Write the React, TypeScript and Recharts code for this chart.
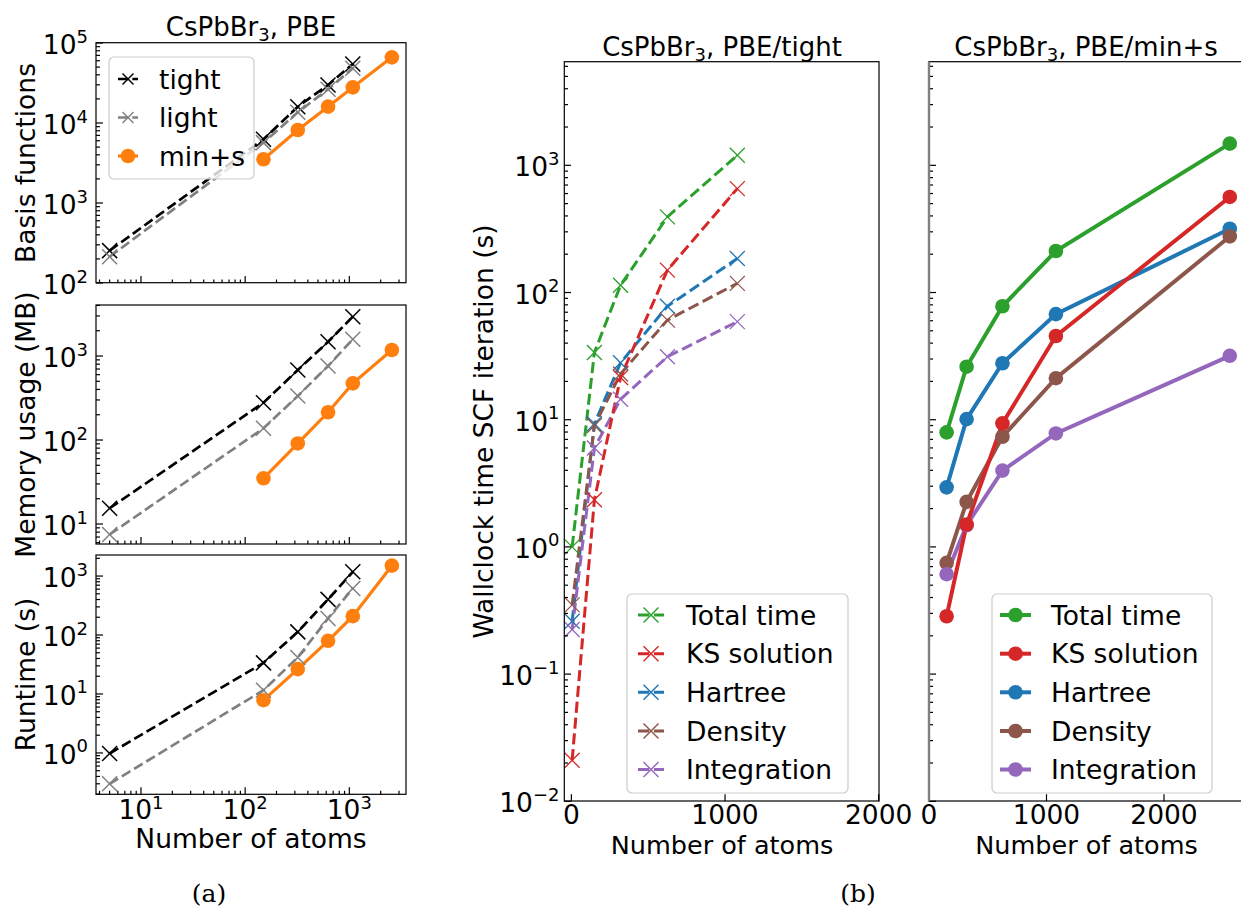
import React from 'react'
import { LineChart, Line, XAxis, YAxis } from 'recharts'

const FONT = '"DejaVu Sans", sans-serif'
const SERIF = '"DejaVu Serif", serif'
const FS = 26.5
const SUP = 18

// number of atoms
const ATOMS_TIGHT = [5, 150, 320, 625, 1080]
const ATOMS_MINS = [150, 320, 625, 1080, 2560]

// (a) basis functions
const BASIS_TIGHT = [254, 6250, 16000, 29900, 54600]
const BASIS_LIGHT = [213, 5680, 13600, 26400, 48300]
const BASIS_MINS = [3520, 8180, 16000, 27900, 66200]

// (a) memory usage (MB)
const MEM_TIGHT = [15.4, 278, 681, 1480, 2940]
const MEM_LIGHT = [7.5, 138, 334, 761, 1580]
const MEM_MINS = [35, 91, 214, 473, 1180]

// (a) runtime (s)
const RUN_TIGHT = [0.98, 33.7, 113, 402, 1180]
const RUN_LIGHT = [0.3, 11.6, 41.7, 191, 617]
const RUN_MINS = [7.85, 26.4, 79.8, 209, 1500]

// (b) wallclock time per SCF iteration, PBE/tight
const TIGHT_TOTAL = [1.0, 33.8, 114, 393, 1200]
const TIGHT_KS = [0.021, 2.35, 21.5, 150, 656]
const TIGHT_HARTREE = [0.26, 9.3, 28, 78, 185]
const TIGHT_DENSITY = [0.35, 9.0, 22.9, 60.7, 118]
const TIGHT_INTEG = [0.224, 6.0, 14.5, 31.3, 59]

// (b) wallclock time per SCF iteration, PBE/min+s
const MINS_TOTAL = [7.95, 26.1, 78, 212, 1480]
const MINS_KS = [0.285, 1.5, 9.35, 45.5, 564]
const MINS_HARTREE = [2.94, 10.1, 27.8, 67.6, 317]
const MINS_DENSITY = [0.75, 2.26, 7.35, 21.2, 276]
const MINS_INTEG = [0.61, 1.48, 3.98, 7.8, 31.8]

const LIN_TICKS = [0, 1000, 2000]

const SCF_SERIES = [
  { name: 'Total time', color: '#2ca02c', tight: TIGHT_TOTAL, mins: MINS_TOTAL },
  { name: 'KS solution', color: '#d62728', tight: TIGHT_KS, mins: MINS_KS },
  { name: 'Hartree', color: '#1f77b4', tight: TIGHT_HARTREE, mins: MINS_HARTREE },
  { name: 'Density', color: '#8c564b', tight: TIGHT_DENSITY, mins: MINS_DENSITY },
  { name: 'Integration', color: '#9467bd', tight: TIGHT_INTEG, mins: MINS_INTEG },
]
// KS drawn last so it sits on top, legend keeps the order above
const DRAW_ORDER = [0, 2, 3, 4, 1]

const pts = (xs: number[], ys: number[]) => xs.map((x, i) => ({ x, y: ys[i] }))

function logTicks(lo: number, hi: number) {
  const out: number[] = []
  for (let e = Math.floor(Math.log10(lo)); e <= Math.ceil(Math.log10(hi)); e++) {
    for (let m = 1; m < 10; m++) {
      const v = Number((m * Math.pow(10, e)).toPrecision(6))
      if (v >= lo * 0.9999 && v <= hi * 1.0001) out.push(v)
    }
  }
  return out
}

const isMajor = (v: number) => {
  const l = Math.log10(v)
  return Math.abs(l - Math.round(l)) < 1e-6
}
const expText = (v: number) => {
  const e = Math.round(Math.log10(v))
  return e < 0 ? '\u2212' + -e : String(e)
}

type Rect = { x0: number; y0: number; x1: number; y1: number }

const RECT_A1: Rect = { x0: 96, y0: 42.7, x1: 406, y1: 282.7 }
const RECT_A2: Rect = { x0: 96, y0: 305, x1: 406, y1: 544 }
const RECT_A3: Rect = { x0: 96, y0: 555, x1: 406, y1: 794.3 }
const RECT_B1: Rect = { x0: 564.3, y0: 61.7, x1: 879, y1: 801 }
const RECT_B2: Rect = { x0: 929, y0: 61.7, x1: 1244, y1: 801 }

const A_XDOM: [number, number] = [3.7, 3500]
const B_YDOM: [number, number] = [0.01, 6490]

const YLogTick = ({ x, y, payload, label, gap }: any) => {
  const v = payload.value
  const major = isMajor(v)
  return (
    <g>
      <line x1={x} y1={y} x2={x + (major ? 7 : 4)} y2={y} stroke="#000" strokeWidth={1.2} />
      {major && label && (
        <text x={x - gap} y={y + 11} textAnchor="end" fontFamily={FONT} fontSize={FS} fill="#000">
          10<tspan dy={-11.5} fontSize={SUP}>{expText(v)}</tspan>
        </text>
      )}
    </g>
  )
}

const XLogTick = ({ x, y, payload, label }: any) => {
  const v = payload.value
  const major = isMajor(v)
  return (
    <g>
      <line x1={x} y1={y} x2={x} y2={y - (major ? 7 : 3.5)} stroke="#000" strokeWidth={1.2} />
      {major && label && (
        <text x={x} y={y + 25.2} textAnchor="middle" fontFamily={FONT} fontSize={FS} fill="#000">
          10<tspan dy={-10} fontSize={SUP}>{expText(v)}</tspan>
        </text>
      )}
    </g>
  )
}

const XLinTick = ({ x, y, payload }: any) => (
  <g>
    <line x1={x} y1={y} x2={x} y2={y - 7} stroke="#000" strokeWidth={1.2} />
    <text x={x} y={y + 22.5} textAnchor="middle" fontFamily={FONT} fontSize={FS} fill="#000">
      {payload.value}
    </text>
  </g>
)

const xDot = (color: string, size: number, sw: number) => (p: any) => {
  const { cx, cy, index } = p
  const h = size / 2
  if (cx == null || cy == null) return <g key={index} />
  return (
    <g key={'d' + index}>
      <line x1={cx - h} y1={cy - h} x2={cx + h} y2={cy + h} stroke={color} strokeWidth={sw} />
      <line x1={cx - h} y1={cy + h} x2={cx + h} y2={cy - h} stroke={color} strokeWidth={sw} />
    </g>
  )
}

function Panel({ rect, pad, xDomain, xScale, xTicks, xTick, yDomain, yTicks, yTick, children }: any) {
  const [pl, pt, pr, pb] = pad
  const w = rect.x1 - rect.x0 + pl + pr
  const h = rect.y1 - rect.y0 + pt + pb
  return (
    <div style={{ position: 'absolute', left: rect.x0 - pl, top: rect.y0 - pt }}>
      <LineChart width={w} height={h} margin={{ top: pt, right: pr, bottom: 0, left: 0 }}>
        <XAxis
          type="number"
          dataKey="x"
          scale={xScale}
          domain={xDomain}
          ticks={xTicks}
          interval={0}
          height={pb}
          axisLine={false}
          tickLine={false}
          tickSize={0}
          tickMargin={0}
          tick={xTick}
        />
        <YAxis
          type="number"
          scale="log"
          domain={yDomain}
          ticks={yTicks}
          interval={0}
          width={pl}
          axisLine={false}
          tickLine={false}
          tickSize={0}
          tickMargin={0}
          tick={yTick}
        />
        {children}
      </LineChart>
    </div>
  )
}

function aLines(tight: number[], light: number[], mins: number[]) {
  return [
    <Line key="t" data={pts(ATOMS_TIGHT, tight)} dataKey="y" stroke="#000" strokeWidth={2.7}
      strokeDasharray="10 4.3" dot={xDot('#000', 15, 1.5)} activeDot={false} isAnimationActive={false} />,
    <Line key="l" data={pts(ATOMS_TIGHT, light)} dataKey="y" stroke="#808080" strokeWidth={2.7}
      strokeDasharray="10 4.3" dot={xDot('#808080', 15, 1.5)} activeDot={false} isAnimationActive={false} />,
    <Line key="m" data={pts(ATOMS_MINS, mins)} dataKey="y" stroke="#ff7f0e" strokeWidth={3.2}
      dot={{ r: 7.3, fill: '#ff7f0e', stroke: '#ff7f0e', strokeWidth: 0 }} activeDot={false} isAnimationActive={false} />,
  ]
}

function Legend({ box, rows, hx0, hx1, tx, items }: any) {
  const mid = (hx0 + hx1) / 2
  return (
    <g>
      <rect x={box[0]} y={box[1]} width={box[2]} height={box[3]} rx={5} fill="#fff" fillOpacity={0.8}
        stroke="#cccccc" strokeWidth={1.2} />
      {items.map((it: any, i: number) => {
        const y = rows[i]
        return (
          <g key={it.label}>
            <line x1={hx0} y1={y} x2={hx1} y2={y} stroke={it.color} strokeWidth={it.lw}
              strokeDasharray={it.dash || undefined} />
            {it.marker === 'x' ? (
              xDot(it.color, it.ms, 1.4)({ cx: mid, cy: y, index: i })
            ) : (
              <circle cx={mid} cy={y} r={it.ms} fill={it.color} />
            )}
            <text x={tx} y={y + 9.6} fontFamily={FONT} fontSize={FS} fill="#000">{it.label}</text>
          </g>
        )
      })}
    </g>
  )
}

function Title({ x, y, tail }: any) {
  return (
    <text x={x} y={y} textAnchor="middle" fontFamily={FONT} fontSize={26} fill="#000">
      CsPbBr<tspan dy={5} fontSize={18}>3</tspan><tspan dy={-5}>{', ' + tail}</tspan>
    </text>
  )
}

function RotLabel({ x, y, text }: any) {
  return (
    <text x={x} y={y} transform={`rotate(-90 ${x} ${y})`} textAnchor="middle" fontFamily={FONT} fontSize={FS} fill="#000">
      {text}
    </text>
  )
}

const Frame = ({ r, leftGray }: { r: Rect; leftGray?: boolean }) => (
  <g>
    <rect x={r.x0} y={r.y0} width={r.x1 - r.x0} height={r.y1 - r.y0} fill="none" stroke="#000" strokeWidth={1.2} />
    {leftGray && <line x1={r.x0} y1={r.y0} x2={r.x0} y2={r.y1} stroke="#808080" strokeWidth={2.4} />}
  </g>
)

export default function App() {
  const aX = logTicks(A_XDOM[0], A_XDOM[1])
  const bY = logTicks(B_YDOM[0], B_YDOM[1])
  const padA: [number, number, number, number] = [92, 22, 20, 22]
  return (
    <div style={{ position: 'absolute', left: 0, top: 0, width: 1241, height: 909, overflow: 'hidden', background: '#fff' }}>
      <Panel rect={RECT_A1} pad={padA} xDomain={A_XDOM} xScale="log" xTicks={aX}
        xTick={(p: any) => <XLogTick {...p} label={false} />}
        yDomain={[100, 100000]} yTicks={logTicks(100, 100000)}
        yTick={(p: any) => <YLogTick {...p} label gap={8} />}>
        {aLines(BASIS_TIGHT, BASIS_LIGHT, BASIS_MINS)}
      </Panel>
      <Panel rect={RECT_A2} pad={padA} xDomain={A_XDOM} xScale="log" xTicks={aX}
        xTick={(p: any) => <XLogTick {...p} label={false} />}
        yDomain={[5.78, 4050]} yTicks={logTicks(5.78, 4050)}
        yTick={(p: any) => <YLogTick {...p} label gap={8} />}>
        {aLines(MEM_TIGHT, MEM_LIGHT, MEM_MINS)}
      </Panel>
      <Panel rect={RECT_A3} pad={[92, 22, 20, 40]} xDomain={A_XDOM} xScale="log" xTicks={aX}
        xTick={(p: any) => <XLogTick {...p} label />}
        yDomain={[0.199, 2275]} yTicks={logTicks(0.199, 2275)}
        yTick={(p: any) => <YLogTick {...p} label gap={8} />}>
        {aLines(RUN_TIGHT, RUN_LIGHT, RUN_MINS)}
      </Panel>
      <Panel rect={RECT_B1} pad={[72, 22, 45, 40]} xDomain={[-48, 2000]} xScale="linear" xTicks={LIN_TICKS}
        xTick={(p: any) => <XLinTick {...p} />}
        yDomain={B_YDOM} yTicks={bY}
        yTick={(p: any) => <YLogTick {...p} label gap={4.5} />}>
        {DRAW_ORDER.map((i) => {
          const s = SCF_SERIES[i]
          return (
            <Line key={s.name} data={pts(ATOMS_TIGHT, s.tight)} dataKey="y" stroke={s.color} strokeWidth={3}
              strokeDasharray="11.1 4.8" dot={xDot(s.color, 15, 1.3)} activeDot={false} isAnimationActive={false} />
          )
        })}
      </Panel>
      <Panel rect={RECT_B2} pad={[20, 22, 20, 40]} xDomain={[0, 2681]} xScale="linear" xTicks={LIN_TICKS}
        xTick={(p: any) => <XLinTick {...p} />}
        yDomain={B_YDOM} yTicks={bY}
        yTick={(p: any) => <YLogTick {...p} label={false} gap={4.5} />}>
        {DRAW_ORDER.map((i) => {
          const s = SCF_SERIES[i]
          return (
            <Line key={s.name} data={pts(ATOMS_MINS, s.mins)} dataKey="y" stroke={s.color} strokeWidth={4}
              dot={{ r: 7.3, fill: s.color, stroke: s.color, strokeWidth: 0 }} activeDot={false} isAnimationActive={false} />
          )
        })}
      </Panel>

      <svg width={1241} height={909} style={{ position: 'absolute', left: 0, top: 0, pointerEvents: 'none' }}>
        <Frame r={RECT_A1} />
        <Frame r={RECT_A2} />
        <Frame r={RECT_A3} />
        <Frame r={RECT_B1} />
        <Frame r={RECT_B2} leftGray />

        <Title x={251} y={36} tail="PBE" />
        <Title x={722} y={56} tail="PBE/tight" />
        <Title x={1086} y={56} tail="PBE/min+s" />

        <RotLabel x={35} y={163} text="Basis functions" />
        <RotLabel x={35} y={424.5} text="Memory usage (MB)" />
        <RotLabel x={35} y={674.5} text="Runtime (s)" />
        <RotLabel x={493} y={431.4} text="Wallclock time SCF iteration (s)" />

        <text x={251} y={848} textAnchor="middle" fontFamily={FONT} fontSize={FS}>Number of atoms</text>
        <text x={722} y={854} textAnchor="middle" fontFamily={FONT} fontSize={25.5}>Number of atoms</text>
        <text x={1086.5} y={854} textAnchor="middle" fontFamily={FONT} fontSize={25.5}>Number of atoms</text>

        <text x={209} y={902} textAnchor="middle" fontFamily={SERIF} fontSize={25}>(a)</text>
        <text x={858} y={902} textAnchor="middle" fontFamily={SERIF} fontSize={25}>(b)</text>

        <Legend box={[109, 57, 145, 122]} rows={[79, 117.5, 156]} hx0={118} hx1={138} tx={159}
          items={[
            { label: 'tight', color: '#000', lw: 2.7, dash: '10 4.3', marker: 'x', ms: 11 },
            { label: 'light', color: '#808080', lw: 2.7, dash: '10 4.3', marker: 'x', ms: 11 },
            { label: 'min+s', color: '#ff7f0e', lw: 3.2, marker: 'o', ms: 7.3 },
          ]} />
        <Legend box={[627, 594, 221, 199]} rows={[615, 653.7, 692.3, 731, 769.5]} hx0={638} hx1={664} tx={686}
          items={SCF_SERIES.map((s) => ({ label: s.name, color: s.color, lw: 3, dash: '11.1 4.8', marker: 'x', ms: 15 }))} />
        <Legend box={[992, 594, 220, 199]} rows={[615, 653.7, 692.3, 731, 769.5]} hx0={1000} hx1={1031} tx={1051}
          items={SCF_SERIES.map((s) => ({ label: s.name, color: s.color, lw: 4, marker: 'o', ms: 7.3 }))} />
      </svg>
    </div>
  )
}
